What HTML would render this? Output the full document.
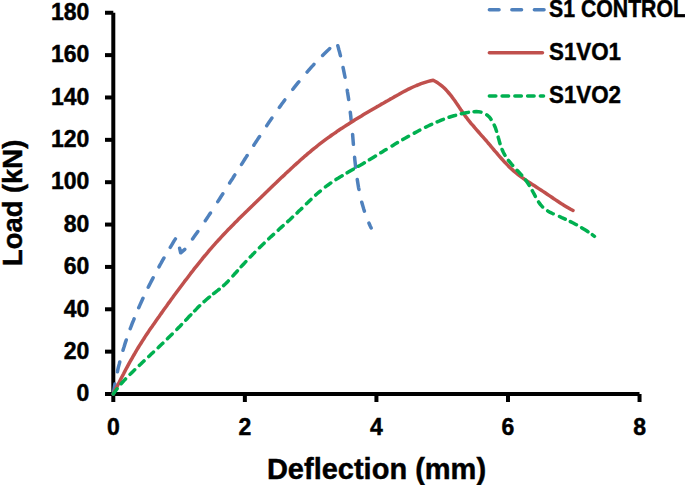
<!DOCTYPE html>
<html><head><meta charset="utf-8"><style>
html,body{margin:0;padding:0;background:#fff;width:685px;height:485px;overflow:hidden}
svg{display:block}
text{font-family:"Liberation Sans",sans-serif;font-weight:bold;fill:#000;stroke:#000;stroke-width:0.45px}
</style></head><body>
<svg width="685" height="485" viewBox="0 0 685 485">
<g stroke="#000" stroke-width="4" fill="none">
<line x1="113.3" y1="12.8" x2="113.3" y2="396"/>
<line x1="111.3" y1="394" x2="639.5" y2="394"/>
<line x1="105" y1="394.00" x2="113.3" y2="394.00"/><line x1="105" y1="351.64" x2="113.3" y2="351.64"/><line x1="105" y1="309.28" x2="113.3" y2="309.28"/><line x1="105" y1="266.92" x2="113.3" y2="266.92"/><line x1="105" y1="224.56" x2="113.3" y2="224.56"/><line x1="105" y1="182.20" x2="113.3" y2="182.20"/><line x1="105" y1="139.84" x2="113.3" y2="139.84"/><line x1="105" y1="97.48" x2="113.3" y2="97.48"/><line x1="105" y1="55.12" x2="113.3" y2="55.12"/><line x1="105" y1="12.76" x2="113.3" y2="12.76"/>
<line x1="113.30" y1="394" x2="113.30" y2="402"/><line x1="244.86" y1="394" x2="244.86" y2="402"/><line x1="376.42" y1="394" x2="376.42" y2="402"/><line x1="507.98" y1="394" x2="507.98" y2="402"/><line x1="639.54" y1="394" x2="639.54" y2="402"/>
</g>
<g font-size="23">
<text x="89.4" y="401.23" text-anchor="end">0</text><text x="89.4" y="358.87" text-anchor="end">20</text><text x="89.4" y="316.51" text-anchor="end">40</text><text x="89.4" y="274.15" text-anchor="end">60</text><text x="89.4" y="231.79" text-anchor="end">80</text><text x="89.4" y="189.43" text-anchor="end">100</text><text x="89.4" y="147.07" text-anchor="end">120</text><text x="89.4" y="104.71" text-anchor="end">140</text><text x="89.4" y="62.35" text-anchor="end">160</text><text x="89.4" y="19.99" text-anchor="end">180</text>
<text x="113.30" y="434.83" text-anchor="middle">0</text><text x="244.86" y="434.83" text-anchor="middle">2</text><text x="376.42" y="434.83" text-anchor="middle">4</text><text x="507.98" y="434.83" text-anchor="middle">6</text><text x="639.54" y="434.83" text-anchor="middle">8</text>
</g>
<text x="376.5" y="478.5" font-size="29" text-anchor="middle">Deflection (mm)</text>
<text transform="translate(22.2,202.9) rotate(-90)" font-size="28.3" text-anchor="middle" textLength="126.3" lengthAdjust="spacingAndGlyphs">Load (kN)</text>
<g fill="none" stroke-linejoin="round" stroke-linecap="round" stroke-width="3.5">
<polyline points="113.3,394.0 113.7,391.5 114.1,388.9 114.5,386.4 114.9,383.9 115.4,381.4 115.9,378.9 116.4,376.4 116.9,373.9 117.5,371.4 118.0,368.9 118.6,366.4 119.3,363.9 119.9,361.5 120.5,359.0 121.2,356.6 121.9,354.1 122.6,351.7 123.3,349.2 124.1,346.8 124.8,344.4 125.6,341.9 126.4,339.5 127.3,337.1 128.1,334.7 128.9,332.3 129.8,329.9 130.7,327.5 131.6,325.1 132.5,322.7 133.5,320.4 134.4,318.0 135.4,315.6 136.3,313.3 137.3,310.9 138.3,308.6 139.4,306.2 140.4,303.9 141.5,301.6 142.5,299.3 143.6,296.9 144.7,294.6 145.8,292.3 146.9,290.0 148.0,287.7 149.2,285.4 150.3,283.2 151.5,280.9 152.7,278.6 153.9,276.3 155.1,274.1 156.3,271.8 157.5,269.6 158.7,267.4 159.9,265.1 161.2,262.9 162.4,260.7 163.7,258.4 165.0,256.2 166.3,254.0 167.6,251.8 168.9,249.6 170.2,247.4 171.5,245.3 172.8,243.1 174.1,240.9 175.5,238.8 176.8,236.6 180.7,252.8 184.8,249.3 186.3,247.3 187.9,245.3 189.4,243.3 190.9,241.2 192.4,239.2 193.9,237.1 195.3,235.1 196.8,233.0 198.2,231.0 199.7,228.9 201.1,226.8 202.5,224.7 204.0,222.6 205.4,220.6 206.8,218.5 208.2,216.4 209.6,214.3 211.0,212.2 212.3,210.0 213.7,207.9 215.1,205.8 216.5,203.7 217.8,201.6 219.2,199.5 220.6,197.3 221.9,195.2 223.3,193.1 224.6,190.9 226.0,188.8 227.3,186.7 228.7,184.6 230.0,182.4 231.4,180.3 232.8,178.2 234.1,176.0 235.5,173.9 236.8,171.8 238.2,169.6 239.5,167.5 240.9,165.4 242.2,163.3 243.6,161.1 244.9,159.0 246.3,156.9 247.7,154.7 249.0,152.6 250.4,150.5 251.8,148.4 253.2,146.2 254.5,144.1 255.9,142.0 257.3,139.9 258.7,137.8 260.1,135.7 261.5,133.5 262.9,131.4 264.3,129.3 265.7,127.2 267.1,125.1 268.5,123.0 269.9,120.9 271.4,118.8 272.8,116.7 274.2,114.7 275.7,112.6 277.2,110.5 278.6,108.4 280.1,106.4 281.6,104.3 283.1,102.3 284.6,100.2 286.1,98.2 287.6,96.2 289.1,94.2 290.6,92.2 292.2,90.2 293.7,88.2 295.3,86.2 296.9,84.2 298.5,82.2 300.1,80.3 301.7,78.3 303.3,76.4 304.9,74.5 306.6,72.6 308.3,70.7 309.9,68.8 311.6,66.9 313.3,65.1 315.0,63.2 316.8,61.4 318.5,59.6 320.3,57.8 322.0,56.0 323.8,54.2 325.6,52.4 327.4,50.7 329.3,49.0 331.1,47.2 333.0,45.5 334.9,43.9 336.8,42.2 337.5,44.6 338.2,47.1 338.8,49.5 339.5,51.9 340.1,54.4 340.7,56.8 341.3,59.3 341.8,61.7 342.4,64.2 342.9,66.7 343.4,69.1 343.9,71.6 344.4,74.1 344.9,76.5 345.4,79.0 345.8,81.5 346.2,84.0 346.7,86.5 347.1,89.0 347.4,91.5 347.8,93.9 348.2,96.4 348.6,98.9 348.9,101.5 349.2,104.0 349.6,106.5 349.9,109.0 350.2,111.5 350.5,114.0 350.8,116.5 351.0,119.1 351.3,121.6 351.6,124.1 351.8,126.6 352.1,129.2 352.3,131.7 352.6,134.2 352.8,136.8 353.0,139.3 353.2,141.9 353.4,144.4 353.7,146.9 353.9,149.5 354.1,152.0 354.4,154.6 354.6,157.1 354.8,159.6 355.1,162.2 355.4,164.7 355.6,167.2 355.9,169.7 356.2,172.3 356.6,174.8 356.9,177.3 357.3,179.8 357.7,182.3 358.1,184.8 358.5,187.3 359.0,189.7 359.4,192.2 360.0,194.7 360.5,197.1 361.1,199.6 361.7,202.0 362.4,204.4 363.1,206.9 363.8,209.3 364.6,211.7 365.4,214.1 366.2,216.4 367.1,218.8 368.1,221.1 369.1,223.5 370.1,225.8 371.2,228.1" stroke="#4F81BD" stroke-dasharray="10.18 12.41 10.03 12.25 10.81 11.89 10.62 12.01 10.38 12.24 10.65 12.39 10.17 12.40 9.89 14.56 10.12 12.96 9.14 13.09 9.32 13.45 9.40 12.75 9.64 12.44 10.50 12.28 10.45 12.95 9.27 12.94 9.29 13.32 9.65 12.73 10.28 12.50 9.81 13.19 10.36 12.16 9.87 13.12 9.54 12.77 7.68 14.59 9.98 12.98 9.95 12.51 10.04 13.08 9.24 12.91 5.35 690.49" stroke-dashoffset="0.00"/>
<polyline points="113.3,394.0 114.4,391.7 115.5,389.5 116.7,387.2 117.8,385.0 119.0,382.7 120.1,380.5 121.2,378.3 122.4,376.0 123.6,373.8 124.7,371.6 125.9,369.3 127.1,367.1 128.3,364.9 129.5,362.7 130.7,360.5 132.0,358.3 133.2,356.2 134.5,354.0 135.7,351.8 137.0,349.7 138.3,347.5 139.6,345.4 141.0,343.2 142.3,341.1 143.7,339.0 145.0,336.9 146.4,334.8 147.8,332.7 149.2,330.6 150.6,328.6 152.1,326.5 153.5,324.4 154.9,322.4 156.4,320.3 157.8,318.3 159.3,316.2 160.7,314.1 162.2,312.1 163.6,310.0 165.1,308.0 166.6,306.0 168.0,303.9 169.5,301.9 171.0,299.8 172.5,297.8 173.9,295.8 175.4,293.8 176.9,291.7 178.4,289.7 179.9,287.7 181.4,285.7 182.9,283.7 184.4,281.7 186.0,279.7 187.5,277.7 189.0,275.7 190.5,273.7 192.1,271.7 193.6,269.7 195.2,267.7 196.7,265.8 198.3,263.8 199.9,261.8 201.5,259.9 203.0,257.9 204.6,256.0 206.3,254.1 207.9,252.2 209.5,250.2 211.1,248.3 212.8,246.4 214.4,244.6 216.1,242.7 217.8,240.8 219.5,239.0 221.2,237.1 222.9,235.3 224.6,233.5 226.4,231.6 228.1,229.8 229.9,228.0 231.6,226.2 233.4,224.4 235.2,222.6 236.9,220.9 238.7,219.1 240.5,217.3 242.3,215.5 244.1,213.8 245.9,212.0 247.7,210.3 249.5,208.5 251.3,206.7 253.1,205.0 254.9,203.2 256.7,201.5 258.5,199.7 260.3,198.0 262.1,196.2 263.9,194.5 265.7,192.7 267.5,191.0 269.3,189.2 271.1,187.5 272.9,185.8 274.8,184.0 276.6,182.3 278.4,180.5 280.2,178.8 282.0,177.1 283.9,175.4 285.7,173.6 287.5,171.9 289.4,170.2 291.2,168.5 293.1,166.8 294.9,165.1 296.8,163.4 298.7,161.7 300.5,160.0 302.4,158.4 304.3,156.7 306.2,155.1 308.1,153.4 310.1,151.8 312.0,150.2 313.9,148.6 315.9,147.1 317.8,145.5 319.8,143.9 321.8,142.4 323.8,140.9 325.8,139.4 327.9,137.9 329.9,136.5 331.9,135.0 334.0,133.6 336.1,132.2 338.1,130.7 340.2,129.3 342.3,128.0 344.4,126.6 346.5,125.2 348.6,123.9 350.8,122.5 352.9,121.2 355.0,119.8 357.2,118.5 359.3,117.2 361.5,115.9 363.6,114.6 365.8,113.3 368.0,112.0 370.1,110.8 372.3,109.5 374.5,108.2 376.7,106.9 378.9,105.7 381.0,104.4 383.2,103.2 385.4,101.9 387.6,100.7 389.8,99.4 392.0,98.2 394.2,96.9 396.4,95.7 398.6,94.5 400.8,93.2 403.0,92.0 405.2,90.9 407.4,89.7 409.7,88.6 411.9,87.5 414.2,86.5 416.5,85.5 418.8,84.6 421.1,83.7 423.5,82.9 425.9,82.1 428.3,81.4 430.7,80.8 433.2,80.3 435.5,81.5 437.7,82.8 439.8,84.3 441.8,85.9 443.7,87.5 445.5,89.3 447.2,91.1 448.8,93.0 450.4,94.9 452.0,96.9 453.5,99.0 455.0,101.0 456.4,103.1 457.9,105.3 459.3,107.4 460.7,109.5 462.2,111.6 463.6,113.7 465.1,115.8 466.7,117.8 468.2,119.9 469.8,121.8 471.4,123.8 473.1,125.7 474.7,127.7 476.4,129.6 478.1,131.5 479.7,133.4 481.4,135.3 483.1,137.2 484.8,139.1 486.5,141.0 488.1,143.0 489.8,144.9 491.4,146.9 493.1,148.8 494.7,150.8 496.4,152.7 498.0,154.7 499.7,156.6 501.4,158.5 503.1,160.4 504.8,162.3 506.6,164.1 508.3,165.9 510.1,167.7 512.0,169.4 513.9,171.1 515.8,172.7 517.8,174.3 519.8,175.9 521.8,177.4 523.8,178.8 525.9,180.3 528.0,181.7 530.2,183.1 532.3,184.4 534.5,185.8 536.6,187.2 538.7,188.6 540.9,190.0 543.0,191.4 545.1,192.8 547.2,194.2 549.3,195.6 551.4,197.0 553.5,198.5 555.6,199.9 557.7,201.3 559.9,202.7 562.0,204.1 564.2,205.4 566.3,206.7 568.5,208.0 570.7,209.3 573.0,210.5" stroke="#C0504D"/>
<polyline points="113.3,394.0 114.7,392.0 116.2,390.0 117.7,388.0 119.2,386.0 120.8,384.1 122.5,382.3 124.2,380.4 125.9,378.6 127.6,376.8 129.4,375.0 131.2,373.2 133.0,371.4 134.8,369.7 136.6,367.9 138.4,366.2 140.3,364.5 142.1,362.7 143.9,361.0 145.8,359.3 147.6,357.6 149.4,355.9 151.3,354.1 153.1,352.4 154.9,350.7 156.7,349.0 158.6,347.3 160.4,345.5 162.2,343.8 164.0,342.1 165.8,340.3 167.6,338.6 169.4,336.8 171.2,335.1 172.9,333.3 174.7,331.6 176.5,329.8 178.2,328.0 180.0,326.2 181.7,324.4 183.5,322.6 185.2,320.8 186.9,319.0 188.6,317.1 190.4,315.3 192.1,313.5 193.8,311.7 195.6,309.9 197.3,308.1 199.1,306.3 200.9,304.6 202.7,302.9 204.6,301.2 206.5,299.5 208.4,297.9 210.3,296.3 212.3,294.7 214.3,293.1 216.2,291.6 218.2,290.0 220.2,288.5 222.1,286.8 224.0,285.2 225.8,283.5 227.6,281.7 229.3,279.9 231.0,278.1 232.7,276.2 234.3,274.3 236.0,272.5 237.6,270.6 239.3,268.7 241.0,266.8 242.7,265.0 244.4,263.2 246.1,261.3 247.8,259.5 249.6,257.7 251.3,255.9 253.1,254.1 254.8,252.3 256.6,250.5 258.4,248.7 260.2,247.0 262.0,245.2 263.8,243.5 265.6,241.7 267.4,240.0 269.3,238.3 271.1,236.6 273.0,234.9 274.8,233.2 276.7,231.5 278.6,229.8 280.4,228.1 282.3,226.4 284.2,224.7 286.0,223.1 287.9,221.4 289.8,219.7 291.6,218.0 293.4,216.3 295.3,214.6 297.1,212.9 298.9,211.1 300.7,209.4 302.5,207.7 304.2,205.9 306.0,204.2 307.8,202.5 309.6,200.7 311.4,199.0 313.2,197.3 315.0,195.7 316.8,194.0 318.7,192.4 320.6,190.8 322.5,189.2 324.4,187.6 326.4,186.1 328.4,184.7 330.5,183.2 332.5,181.8 334.6,180.4 336.7,179.1 338.9,177.8 341.0,176.4 343.2,175.1 345.4,173.9 347.6,172.6 349.7,171.3 351.9,170.0 354.1,168.8 356.3,167.5 358.5,166.2 360.7,165.0 362.9,163.7 365.0,162.4 367.2,161.1 369.3,159.8 371.5,158.5 373.6,157.2 375.8,155.9 377.9,154.6 380.1,153.2 382.2,151.9 384.3,150.6 386.5,149.3 388.6,148.0 390.8,146.7 392.9,145.4 395.1,144.1 397.2,142.8 399.4,141.6 401.5,140.3 403.7,139.0 405.9,137.8 408.1,136.5 410.3,135.3 412.5,134.1 414.7,132.9 416.9,131.7 419.1,130.5 421.4,129.4 423.6,128.2 425.8,127.1 428.1,126.0 430.4,124.9 432.7,123.9 435.0,122.8 437.3,121.8 439.6,120.9 441.9,119.9 444.3,119.0 446.7,118.1 449.0,117.3 451.4,116.5 453.9,115.8 456.3,115.1 458.7,114.4 461.2,113.8 463.7,113.3 466.2,112.8 468.7,112.3 471.2,112.0 473.7,111.7 476.2,111.6 478.7,111.7 481.0,112.1 483.2,112.7 485.3,113.7 487.2,115.1 489.0,116.7 490.6,118.7 492.0,120.8 493.3,123.0 494.4,125.4 495.4,127.7 496.2,130.2 497.0,132.6 497.7,135.1 498.3,137.5 499.0,140.0 499.6,142.4 500.4,144.8 501.2,147.2 502.1,149.5 503.1,151.8 504.2,154.0 505.5,156.1 506.9,158.2 508.3,160.2 509.9,162.2 511.5,164.2 513.2,166.1 514.9,167.9 516.6,169.8 518.4,171.6 520.1,173.5 521.8,175.3 523.4,177.2 525.0,179.2 526.5,181.2 527.9,183.3 529.2,185.4 530.5,187.6 531.8,189.8 533.0,192.0 534.2,194.2 535.4,196.5 536.6,198.7 537.9,200.9 539.2,202.9 540.7,204.9 542.3,206.7 544.1,208.4 546.0,209.8 548.1,211.2 550.2,212.4 552.5,213.5 554.8,214.5 557.1,215.5 559.5,216.5 561.8,217.6 564.1,218.6 566.4,219.7 568.7,220.8 570.9,221.9 573.2,223.0 575.4,224.2 577.6,225.4 579.8,226.6 581.9,227.9 584.1,229.2 586.2,230.5 588.3,231.9 590.4,233.3 592.5,234.8 594.5,236.3" stroke="#00B050" stroke-dasharray="6.50 6.42 6.50 6.42 6.50 6.42 6.50 6.42 6.50 6.42 6.50 6.42 6.66 6.65 6.64 6.16 7.35 5.46 7.15 6.07 7.15 5.24 7.19 5.64 6.73 6.82 6.82 5.56 6.93 6.30 6.50 6.57 6.52 6.37 6.52 6.37 6.53 6.13 6.67 6.14 6.59 6.56 6.24 6.42 6.13 6.61 6.64 6.22 7.22 5.80 7.22 5.79 6.92 5.88 7.13 6.26 6.24 6.95 6.33 6.12 6.64 6.54 6.34 6.39 6.80 5.97 6.80 5.97 6.80 5.97 7.29 5.58 7.02 6.47 6.32 6.42 6.73 6.08 6.74 6.19 6.55 6.05 6.72 6.45 6.73 6.17 6.65 6.03 6.48 6.42 6.48 6.42 6.26 6.81 6.36 5.62 6.93 5.97 7.50 5.25 2.71 697.18" stroke-dashoffset="0.00"/>
</g>
<g fill="none" stroke-width="3.5" stroke-linecap="round">
<line x1="489.35" y1="9.75" x2="544.05" y2="9.75" stroke="#4F81BD" stroke-dasharray="9.7 12.8"/>
<line x1="489.35" y1="52.85" x2="542.45" y2="52.85" stroke="#C0504D"/>
<line x1="489.35" y1="96" x2="543.55" y2="96" stroke="#00B050" stroke-dasharray="6.5 6.25"/>
</g>
<g font-size="23.5">
<text x="549" y="17" textLength="137" lengthAdjust="spacingAndGlyphs">S1 CONTROL</text>
<text x="549" y="60.1" textLength="72" lengthAdjust="spacingAndGlyphs">S1VO1</text>
<text x="549" y="103.3" textLength="72" lengthAdjust="spacingAndGlyphs">S1VO2</text>
</g>
</svg>
</body></html>
